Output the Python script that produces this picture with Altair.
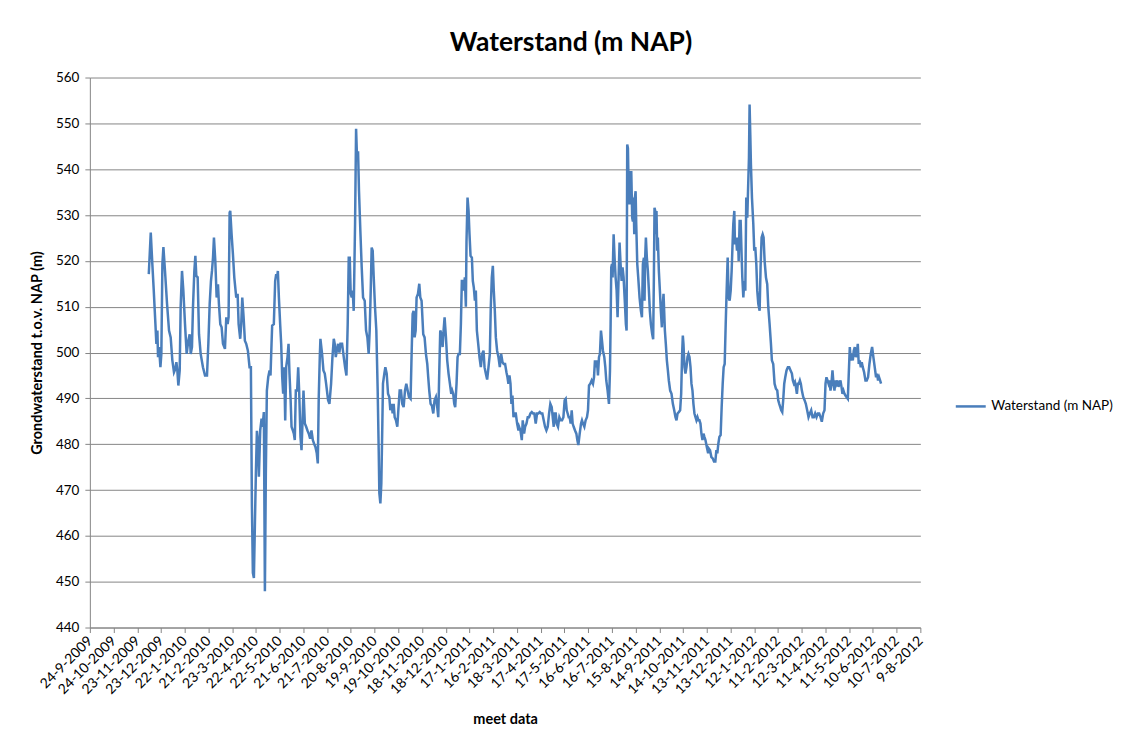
import altair as alt
import pandas as pd

START_DATE = "2009-09-24"
SERIES_NAME = "Waterstand (m NAP)"

# day offsets from 24-9-2009
DAYS = [
    74.5, 77.0, 79.0, 80.8, 82.9, 84.1, 85.4, 86.2, 87.5, 89.2, 90.4, 91.7, 93.0, 95.0, 97.6, 100.1,
    102.2, 104.3, 106.4, 108.1, 109.4, 110.6, 111.9, 113.6, 114.8, 116.5, 118.2, 120.3, 122.4, 124.5,
    126.2, 127.5, 129.1, 130.4, 132.1, 133.4, 134.6, 136.3, 138.0, 140.1, 143.0, 145.6, 148.1, 149.8,
    151.5, 153.1, 154.4, 155.7, 156.9, 158.6, 160.3, 162.0, 163.2, 164.9, 166.6, 168.3, 170.8, 172.5,
    174.2, 175.4, 176.7, 177.5, 179.2, 180.9, 182.6, 185.1, 186.8, 188.1, 190.1, 191.4, 192.7, 194.4,
    196.0, 197.7, 199.8, 201.9, 203.6, 204.9, 206.1, 207.4, 208.7, 209.9, 211.2, 212.4, 213.7, 215.4,
    217.1, 218.3, 220.0, 221.3, 222.5, 223.8, 225.5, 227.2, 228.4, 229.7, 230.5, 232.6, 234.3, 235.6,
    236.8, 237.7, 239.0, 240.6, 241.9, 243.2, 244.4, 245.7, 247.0, 248.2, 249.9, 251.2, 252.4, 253.7,
    255.0, 256.6, 257.9, 259.1, 260.4, 262.1, 263.4, 264.6, 266.3, 267.6, 268.8, 270.1, 271.8, 273.5,
    275.1, 276.8, 278.5, 280.2, 281.9, 283.5, 285.2, 286.9, 288.2, 289.4, 290.7, 291.5, 293.6, 295.3,
    297.0, 298.7, 301.2, 302.9,
    305.0, 306.7, 308.4, 309.6, 310.9, 312.2, 313.8, 315.5, 316.8, 318.9, 321.0, 322.7, 324.4, 326.0,
    327.3, 328.6, 329.8, 331.1, 332.3, 333.6, 335.3, 336.6, 337.8, 339.1, 340.3, 342.0, 343.7, 345.4,
    347.5, 349.2, 350.9, 352.5, 353.8, 355.1, 356.3, 357.6, 358.9, 360.5, 362.2, 363.9, 365.2, 366.0,
    367.3, 368.5, 369.8, 370.6, 372.3, 373.6, 375.3, 377.0, 378.6, 379.9, 381.6, 382.8, 384.1, 385.4,
    387.0, 388.7, 390.0, 391.7, 393.4, 395.0, 396.7, 398.4, 400.1, 401.8, 403.4, 405.5, 406.8, 408.1,
    409.3, 410.6, 411.9, 413.1, 414.8, 416.5, 417.8, 419.4, 421.5, 423.2, 424.9, 426.6, 427.8, 429.1,
    430.8, 432.5, 434.2, 435.8, 437.5, 439.2, 440.5, 441.7, 443.0, 444.7, 446.0, 447.2, 448.5, 450.2,
    451.8, 453.5, 455.2, 456.9, 458.1, 459.4, 460.7, 461.9, 463.6, 464.9, 466.1, 467.8, 469.1, 470.3,
    471.6, 472.9, 474.1, 475.4, 476.2, 477.5, 478.8, 480.0, 481.3, 483.0, 484.2, 485.5, 486.8, 488.0,
    489.3, 491.0, 492.6, 494.3, 496.0, 497.7, 499.0, 500.6, 502.3, 504.0, 505.7, 506.9, 508.2, 509.5,
    510.7, 512.0, 513.3, 514.9, 516.6, 518.3, 520.0, 521.7, 523.3, 525.0, 526.7, 528.0, 529.2, 530.5,
    531.8, 533.0, 534.3, 535.6, 536.8, 538.5, 540.2, 541.9,
    542.7, 544.4, 546.1, 547.3, 549.0, 550.3, 552.0, 553.6, 555.3, 557.0, 558.7, 560.4, 562.0, 563.7,
    565.4, 567.1, 568.8, 570.5, 572.1, 573.8, 575.5, 577.2, 578.9, 580.6, 582.2, 583.9, 585.2, 586.5,
    587.7, 589.0, 590.2, 591.9, 593.6, 595.3, 597.0, 598.7, 600.3, 601.6, 602.9, 604.1, 605.4, 606.6,
    607.9, 609.2, 610.4, 611.7, 613.4, 615.1, 616.3, 617.6, 619.3, 621.0, 622.2, 623.5, 625.2, 626.8,
    628.5, 629.8, 631.1, 632.7, 634.4, 636.1, 637.4, 638.6, 639.9, 641.1, 642.4, 643.7, 644.9, 646.2,
    647.5, 648.7, 650.4, 651.7, 652.9, 654.6, 656.3, 657.6, 658.4, 659.2, 660.1, 660.9, 662.2, 663.4,
    664.7, 666.0, 667.2, 668.5, 669.7, 671.0, 672.3, 673.5, 674.8, 676.5, 677.7, 678.6, 679.4, 680.3,
    681.5, 682.4, 683.6, 684.5, 685.7, 686.6, 687.4, 688.3, 689.1, 690.0, 690.8, 692.1, 693.3, 695.0,
    696.7, 698.0, 699.2, 700.5, 701.3, 702.1, 703.0, 704.2, 705.5, 706.8, 708.0, 709.3, 711.0, 712.2,
    713.1, 713.9, 714.8, 715.6, 716.4, 717.3, 718.1, 719.4, 720.7, 721.9, 723.2, 724.4, 725.3, 726.1,
    727.0, 728.2, 729.5, 730.8, 732.0, 733.7, 735.4, 737.1, 738.8, 740.4, 741.7, 743.0, 744.6, 746.3,
    747.6, 748.8, 749.7, 750.5, 751.8, 753.0, 754.3, 755.6, 756.8, 758.1, 759.4, 760.6, 761.9, 763.1,
    764.4, 765.7, 766.9, 768.2, 769.5, 770.7, 772.0, 773.2, 774.5, 775.8, 777.0, 778.3, 780.0, 781.7,
    782.4, 784.1, 785.8, 787.5, 789.1, 790.8, 792.1, 793.3, 794.6, 795.9, 797.5, 798.8, 800.1, 801.3,
    802.6, 803.9, 805.1, 806.4, 807.6, 808.9, 810.2, 811.4, 812.7, 813.5, 814.8, 815.6, 816.9, 818.2,
    819.4, 820.3, 821.5, 822.8, 824.1, 824.9, 826.2, 827.4, 828.7, 829.9, 831.2, 832.1, 833.3, 834.1,
    835.0, 835.8, 837.1, 838.8, 840.0, 841.3, 842.6, 843.8, 845.1, 846.8, 848.0, 849.3, 850.6, 851.8,
    853.1, 854.8, 856.4, 857.7, 859.4, 861.1, 862.3, 864.0, 865.7, 867.4, 869.1, 870.3, 871.6, 872.9,
    874.1, 875.4, 876.6, 877.9, 879.2, 880.8, 882.5, 884.2, 885.9, 887.6, 888.8, 890.1, 891.4, 892.6,
    893.9, 895.1, 896.4, 897.7, 898.9, 900.2, 901.9, 903.6, 905.2, 906.9, 908.6, 910.3, 912.0, 913.7,
    915.3, 917.0, 918.7, 920.4, 922.1, 923.8, 925.4, 927.1, 928.8, 930.1, 931.3, 932.6, 933.9, 935.1,
    936.4, 937.6, 938.9, 940.2, 941.4, 942.7, 943.9, 945.2, 946.5, 947.7, 949.0, 950.3, 951.5, 952.8,
    954.1, 955.3, 956.6, 958.3, 959.5, 960.8, 962.0, 963.3, 964.6, 965.8, 967.1, 968.4, 969.6, 970.9,
    972.1, 973.4, 974.7, 975.9, 977.2, 978.9, 980.6, 982.2, 983.9, 985.6, 987.3, 989.0, 990.6, 992.3,
    994.0, 995.3, 996.5, 997.8, 999.1, 1000.3,
]

LEVELS = [
    517.1, 526.2, 519.3, 513.5, 506.2, 501.9, 504.8, 499.0, 501.2, 496.8, 499.7, 519.3, 523.0, 517.8, 510.6, 504.8,
    503.3, 498.3, 495.7, 496.4, 497.9, 496.1, 492.8, 496.1, 510.0, 517.8, 513.5, 506.2, 499.7, 502.6,
    504.0, 499.7, 501.2, 510.0, 517.8, 521.1, 516.7, 516.4, 504.0, 499.7, 496.8, 495.0, 495.0, 501.9,
    510.6, 515.6, 517.8, 520.7, 525.1, 520.0, 512.0, 514.9, 510.6, 506.2, 505.5, 501.9, 500.8, 507.7,
    506.2, 507.7, 530.5, 530.9, 525.8, 521.4, 516.4, 512.0, 512.8, 506.2, 503.0, 506.2, 512.0, 507.7,
    502.6, 501.9, 500.4, 496.8, 496.8, 466.4, 451.9, 450.8, 462.8, 473.6, 482.9, 480.9, 472.9, 483.0,
    485.6, 483.8, 487.0, 447.9, 473.6, 491.7, 494.6, 496.1, 495.0, 501.9, 505.9, 506.2, 515.6, 517.1,
    516.4, 517.8, 512.0, 506.2, 501.9, 494.6, 491.0, 496.8, 485.2, 496.8, 499.0, 501.9, 495.4, 490.3,
    483.8, 483.0, 482.3, 480.9, 491.7, 491.7, 496.8, 491.7, 481.6, 478.7, 484.5, 491.7, 484.5, 483.8,
    483.0, 482.3, 481.2, 483.0, 480.9, 480.1, 479.4, 478.0, 475.8, 490.3, 499.0, 503.0, 499.7, 496.1,
    495.4, 493.2, 489.6, 488.8,
    493.2, 499.0, 503.0, 501.9, 499.0, 500.4, 501.9, 500.0, 501.9, 501.9, 499.0, 496.8, 495.0, 506.2,
    520.7, 520.7, 512.8, 512.0, 513.5, 509.1, 528.0, 548.8, 542.5, 543.9, 535.2, 526.5, 518.6, 512.0,
    511.3, 504.8, 503.3, 499.7, 504.8, 513.5, 522.9, 522.2, 516.4, 510.0, 504.8, 491.7, 478.7, 469.3,
    467.1, 471.4, 484.5, 493.2, 495.4, 496.8, 495.4, 491.0, 490.3, 487.4, 488.8, 486.7, 488.8, 485.9,
    485.2, 483.8, 487.4, 491.7, 491.7, 488.8, 488.1, 491.7, 493.2, 491.7, 490.3, 489.9, 499.7, 508.4,
    509.1, 503.3, 504.8, 512.0, 512.8, 515.0, 512.0, 511.3, 504.0, 503.3, 499.7, 497.5, 494.6, 491.7,
    488.8, 488.4, 486.7, 489.6, 490.3, 488.1, 485.9, 495.4, 504.8, 504.0, 501.2, 504.8, 507.7, 503.3,
    498.3, 495.4, 493.2, 491.0, 491.7, 491.0, 488.8, 488.1, 493.2, 499.0, 499.7, 499.7, 506.2, 515.6,
    515.6, 513.5, 516.4, 510.0, 524.3, 533.8, 530.9, 525.8, 521.1, 520.7, 515.6, 514.1, 511.3, 513.5,
    504.8, 501.9, 499.0, 496.8, 499.7, 500.4, 496.8, 495.4, 494.1, 496.8, 499.7, 510.0, 516.4, 518.9,
    513.5, 509.1, 503.3, 500.4, 499.0, 496.8, 499.7, 497.9, 497.5, 497.5, 495.7, 494.6, 493.2, 495.0,
    493.2, 488.8, 490.6, 485.9, 486.7, 486.7, 484.5, 483.0,
    483.8, 483.0, 480.9, 485.2, 482.3, 483.8, 484.5, 485.9, 485.9, 486.7, 487.0, 486.7, 486.7, 484.5,
    486.7, 486.7, 487.0, 486.7, 486.7, 485.2, 483.8, 483.0, 483.8, 486.7, 488.8, 488.1, 485.9, 483.8,
    486.7, 486.7, 484.5, 483.8, 485.9, 485.2, 485.2, 485.9, 489.6, 489.9, 487.4, 486.7, 485.9, 485.9,
    484.5, 487.4, 484.5, 483.8, 483.0, 482.3, 480.9, 479.8, 482.3, 484.5, 485.2, 484.5, 483.8, 485.2,
    485.9, 487.4, 492.8, 493.2, 493.9, 493.2, 494.6, 498.3, 496.8, 498.3, 495.0, 499.0, 499.7, 504.8,
    502.6, 500.4, 499.0, 496.8, 493.9, 491.7, 488.8, 496.1, 506.2, 518.6, 519.3, 516.4, 525.8, 520.7,
    516.4, 513.5, 507.7, 516.4, 524.0, 519.3, 515.6, 518.6, 516.4, 510.6, 506.2, 504.8, 545.4, 544.6,
    532.3, 539.6, 532.3, 539.6, 529.4, 528.6, 533.8, 525.8, 533.8, 535.2, 528.0, 519.3, 516.4, 512.0,
    509.1, 507.7, 519.3, 520.7, 511.3, 520.7, 525.1, 520.7, 517.8, 513.5, 509.1, 506.2, 504.0, 502.9,
    516.4, 531.6, 530.9, 525.8, 530.9, 522.2, 525.1, 517.8, 513.5, 509.1, 505.5, 510.6, 512.8, 509.1,
    504.8, 501.9, 498.3, 496.1, 493.9, 491.7, 491.0, 488.8, 487.4, 485.9, 485.2, 486.7, 487.0, 487.4,
    491.0, 499.7, 503.7, 501.9, 496.8, 495.4, 496.8, 499.0, 499.7, 499.0, 496.8, 493.2, 491.7, 488.8,
    486.7, 485.9, 485.2, 485.9, 485.2, 485.2, 484.5, 482.3, 480.9, 482.3, 481.6, 480.9, 479.4, 478.0,
    479.1, 478.7, 477.2, 476.9, 476.2, 476.2, 478.7, 478.0, 480.1, 481.6, 482.0, 488.1, 493.2, 496.8,
    497.5, 506.2, 513.5, 520.7, 512.0, 511.3, 513.5, 517.8, 524.3, 528.0, 530.9, 523.6, 525.1, 522.2,
    525.1, 520.0, 528.7, 528.7, 520.7, 516.4, 512.0, 515.6, 513.5, 533.8, 529.4, 535.2, 542.5, 554.1,
    547.5, 541.0, 533.8, 528.0, 522.2, 523.0, 519.3, 513.5, 510.6, 509.1, 518.6, 525.1, 525.8, 525.1,
    520.0, 516.4, 514.9, 510.0, 506.2, 501.9, 498.3, 497.5, 493.2, 492.1, 491.7, 489.6, 488.8, 488.1,
    487.4, 487.0, 489.6, 493.2, 494.6, 496.1, 496.8, 496.8, 496.1, 495.4, 493.9, 493.2, 493.6, 492.5,
    491.0, 493.2, 493.2, 493.9, 493.2, 491.7, 490.3, 489.6, 488.8, 487.4, 485.9, 486.7, 487.4, 485.9,
    485.9, 486.7, 485.9, 486.7, 486.7, 485.9, 484.9, 486.7, 487.4, 493.2, 494.6, 493.9, 493.2, 493.9,
    491.7, 493.2, 496.1, 493.2, 491.7, 493.9, 493.2, 493.9, 492.5, 493.2, 493.9, 492.5, 491.0, 491.7,
    491.0, 490.6, 490.3, 489.9, 495.4, 501.2, 498.3, 499.0, 498.3, 500.4, 501.2, 499.0, 499.7, 501.9,
    497.5, 498.3, 496.8, 497.9, 496.8, 495.7, 493.9, 493.9, 494.6, 497.5, 499.7, 501.2, 499.0, 496.8,
    494.6, 495.4, 493.9, 494.6, 493.9, 493.2,
]

# axis tick dates (every 30 days), as (year, month, day)
TICK_DATES = [
    (2009, 9, 24), (2009, 10, 24), (2009, 11, 23), (2009, 12, 23), (2010, 1, 22), (2010, 2, 21),
    (2010, 3, 23), (2010, 4, 22), (2010, 5, 22), (2010, 6, 21), (2010, 7, 21), (2010, 8, 20),
    (2010, 9, 19), (2010, 10, 19), (2010, 11, 18), (2010, 12, 18), (2011, 1, 17), (2011, 2, 16),
    (2011, 3, 18), (2011, 4, 17), (2011, 5, 17), (2011, 6, 16), (2011, 7, 16), (2011, 8, 15),
    (2011, 9, 14), (2011, 10, 14), (2011, 11, 13), (2011, 12, 13), (2012, 1, 12), (2012, 2, 11),
    (2012, 3, 12), (2012, 4, 11), (2012, 5, 11), (2012, 6, 10), (2012, 7, 10), (2012, 8, 9),
]
Y_TICKS = [440, 450, 460, 470, 480, 490, 500, 510, 520, 530, 540, 550, 560]

df = pd.DataFrame({
    "datum": pd.to_datetime(START_DATE) + pd.to_timedelta(DAYS, unit="D"),
    "stand": LEVELS,
    "reeks": SERIES_NAME,
})

tick_values = [alt.DateTime(year=y, month=m, date=d) for (y, m, d) in TICK_DATES]

FONT = "Lato"
GRID = "#868686"

chart = alt.Chart(df).mark_line(strokeWidth=2.5).encode(
    x=alt.X(
        "datum:T",
        title="meet data",
        scale=alt.Scale(domain=[tick_values[0], tick_values[-1]], nice=False),
        axis=alt.Axis(
            values=tick_values,
            format="%-d-%-m-%Y",
            labelAngle=-45,
            labelAlign="right",
            labelBaseline="middle",
            labelFontSize=14,
            labelPadding=6,
            labelOverlap=False,
            labelFlush=False,
            grid=False,
            tickSize=5,
            titlePadding=16,
        ),
    ),
    y=alt.Y(
        "stand:Q",
        title="Grondwaterstand t.o.v. NAP (m)",
        scale=alt.Scale(domain=[440, 560], nice=False, zero=False),
        axis=alt.Axis(
            values=Y_TICKS,
            grid=True,
            tickSize=5,
            labelFontSize=13.5,
            labelPadding=6,
            titlePadding=11,
        ),
    ),
    color=alt.Color(
        "reeks:N",
        scale=alt.Scale(range=["#4A7EBB"]),
        legend=alt.Legend(
            title=None,
            orient="none",
            legendX=866,
            legendY=313,
            symbolType="stroke",
            symbolSize=900,
            symbolStrokeWidth=2.5,
            labelFontSize=13.5,
            labelColor="#000000",
            labelLimit=200,
        ),
    ),
).properties(
    width=832,
    height=551,
    title=alt.TitleParams(
        SERIES_NAME,
        fontSize=26.5,
        fontWeight="bold",
        font=FONT,
        color="#000000",
        anchor="middle",
        dx=66,
        offset=14,
    ),
    autosize=alt.AutoSizeParams(type="none"),
    padding={"left": 82, "top": 69, "right": 197, "bottom": 98},
).configure(
    font=FONT,
).configure_view(
    stroke=None,
).configure_axis(
    labelFont=FONT,
    titleFont=FONT,
    labelColor="#000000",
    titleColor="#000000",
    titleFontSize=14.5,
    titleFontWeight="bold",
    gridColor=GRID,
    gridWidth=1,
    domainColor=GRID,
    tickColor=GRID,
).configure_legend(
    labelFont=FONT,
)

chart.save("out.html", embed_options={"renderer": "svg", "actions": False})
